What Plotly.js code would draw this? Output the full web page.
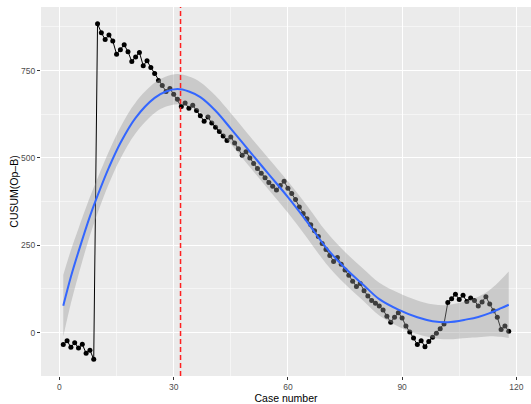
<!DOCTYPE html>
<html>
<head>
<meta charset="utf-8">
<script src="https://cdn.plot.ly/plotly-3.0.1.min.js"></script>
<style>
  html, body { margin: 0; padding: 0; background: #ffffff; }
  #chart { width: 531px; height: 404px; }
</style>
</head>
<body>
<div id="chart"></div>
<script>
// Case numbers
var caseNo = [1,2,3,4,5,6,7,8,9,10,11,12,13,14,15,16,17,18,19,20,
  21,22,23,24,25,26,27,28,29,30,31,32,33,34,35,36,37,38,39,40,
  41,42,43,44,45,46,47,48,49,50,51,52,53,54,55,56,57,58,59,60,
  61,62,63,64,65,66,67,68,69,70,71,72,73,74,75,76,77,78,79,80,
  81,82,83,84,85,86,87,88,89,90,91,92,93,94,95,96,97,98,99,100,
  101,102,103,104,105,106,107,108,109,110,111,112,113,114,115,116,117,118];

// CUSUM(Op-B) values
var cusum = [-34,-23,-42,-29,-44,-33,-59,-50,-76,
  884,858,839,852,835,797,810,824,804,776,789,802,764,778,759,742,722,707,690,699,682,
  668,647,657,642,651,636,621,605,617,600,588,576,563,550,560,543,526,508,518,500,484,470,456,443,430,419,408,
  421,433,413,398,381,360,341,326,309,292,275,255,238,221,204,215,196,179,164,147,132,141,120,105,92,84,
  76,65,47,30,44,57,42,19,2,-15,-34,-23,-40,-25,-13,-2,11,25,86,97,110,95,107,89,99,92,76,88,103,82,63,44,9,19,4];

// Loess smooth (fit) and its confidence band
var smoothX   = [1,3,5,8,10,13,16,20,25,28,31,34,37,41,45,50,55,60,65,70,75,80,84,89,94,98,102,107,110,113,116,118];
var smoothFit = [77,160,232,333,392,473,543,615,672,690,697,690,674,635,584,518,453,388,318,244,185,135,96,66,44,33,30,38,45,56,70,80];
var smoothLo  = [-11,84,166,278,342,427,498,571,629,647,654,647,631,592,540,474,408,343,272,198,139,89,49,18,-4,-15,-19,-15,-13,-10,-12,-15];
var smoothHi  = [165,236,298,388,442,519,588,659,715,733,740,733,717,678,628,562,498,433,364,290,231,181,143,114,92,81,79,91,103,122,152,175];

// Change point (red dashed line)
var changePoint = 31.8;

var tracePts = {
  x: caseNo, y: cusum, type: 'scatter', mode: 'lines+markers',
  line: {color: '#000000', width: 1},
  marker: {color: '#000000', size: 5},
  hoverinfo: 'skip'
};
var traceLo = {
  x: smoothX, y: smoothLo, type: 'scatter', mode: 'lines',
  line: {color: 'rgba(0,0,0,0)', width: 0, shape: 'spline'},
  hoverinfo: 'skip'
};
var traceHi = {
  x: smoothX, y: smoothHi, type: 'scatter', mode: 'lines',
  line: {color: 'rgba(0,0,0,0)', width: 0, shape: 'spline'},
  fill: 'tonexty', fillcolor: 'rgba(153,153,153,0.4)',
  hoverinfo: 'skip'
};
var traceFit = {
  x: smoothX, y: smoothFit, type: 'scatter', mode: 'lines',
  line: {color: '#3366FF', width: 2, shape: 'spline'},
  hoverinfo: 'skip'
};

var fontFam = '"Liberation Sans", Arial, Helvetica, sans-serif';

var layout = {
  width: 531, height: 404,
  margin: {l: 41, r: 0, t: 7, b: 28, pad: 0},
  paper_bgcolor: '#ffffff',
  plot_bgcolor: '#EBEBEB',
  showlegend: false,
  font: {family: fontFam},
  xaxis: {
    range: [-4.85, 123.85],
    tickmode: 'linear', tick0: 0, dtick: 30,
    ticks: 'outside', ticklen: 3, tickwidth: 1, tickcolor: '#333333',
    tickfont: {size: 8.5, color: '#4D4D4D', family: fontFam},
    showgrid: true, gridcolor: '#FFFFFF', gridwidth: 1,
    minor: {tickmode: 'linear', tick0: 15, dtick: 30, showgrid: true, gridcolor: '#FFFFFF', gridwidth: 0.5, ticks: ''},
    zeroline: false, showline: false,
    automargin: false,
    title: {text: 'Case number', font: {size: 10.5, color: '#000000', family: fontFam}, standoff: 2}
  },
  yaxis: {
    range: [-124, 932],
    tickmode: 'linear', tick0: 0, dtick: 250,
    ticks: 'outside', ticklen: 3, tickwidth: 1, tickcolor: '#333333',
    tickfont: {size: 8.5, color: '#4D4D4D', family: fontFam},
    showgrid: true, gridcolor: '#FFFFFF', gridwidth: 1,
    minor: {tickmode: 'linear', tick0: 125, dtick: 250, showgrid: true, gridcolor: '#FFFFFF', gridwidth: 0.5, ticks: ''},
    zeroline: false, showline: false,
    automargin: false,
    title: {text: 'CUSUM(Op–B)', font: {size: 10.5, color: '#000000', family: fontFam}, standoff: 0}
  },
  shapes: [{
    type: 'line', xref: 'x', yref: 'paper',
    x0: changePoint, x1: changePoint, y0: 0, y1: 1,
    line: {color: '#FF2020', width: 1.5, dash: '5px,3px'},
    layer: 'above'
  }]
};

Plotly.newPlot('chart', [tracePts, traceLo, traceHi, traceFit], layout, {displayModeBar: false, staticPlot: true});
</script>
</body>
</html>
